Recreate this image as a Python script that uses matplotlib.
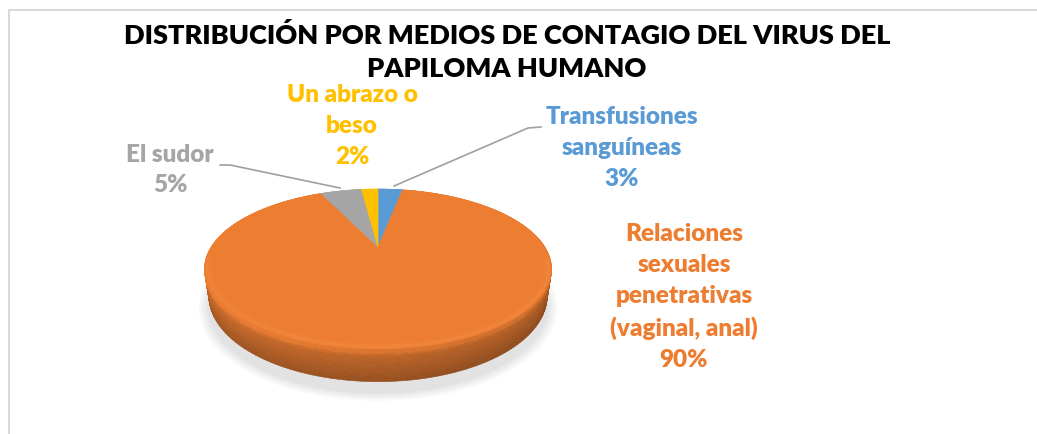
import numpy as np
import matplotlib.pyplot as plt
from matplotlib.collections import PolyCollection
from matplotlib.colors import to_rgb

# data
labels = ['Transfusiones\nsanguíneas', 'Relaciones\nsexuales\npenetrativas\n(vaginal, anal)',
          'El sudor', 'Un abrazo o\nbeso']
values = [3, 90, 5, 2]
colors = ['#5B9BD5', '#ED7D31', '#A5A5A5', '#FFC000']
title = 'DISTRIBUCIÓN POR MEDIOS DE CONTAGIO DEL VIRUS DEL\nPAPILOMA HUMANO'

# layout (pixels, origin top-left)
label_pos = [(622, 148), (684, 297), (170, 170), (352, 126)]
leaders = {0: [(541, 128), (528, 129), (394, 187)],
           2: [(220, 166), (230, 166), (340, 189)]}

# pie geometry: simple perspective projection of a flat cylinder
CX, CY, S = 378, 248, 166.8
EL, DIST, THICK = np.radians(26.3), 3.25, 0.18


def project(theta, r=1.0, z=0.0):
    x = r * np.sin(theta)
    y = -r * np.cos(theta)
    s, c = np.sin(EL), np.cos(EL)
    yv = y * s - z * c
    depth = DIST - y * c - z * s
    return CX + S * x * DIST / depth, CY + S * yv * DIST / depth


def shade(col, f):
    return tuple(np.clip(np.array(to_rgb(col)) * f, 0, 1))


fig = plt.figure(figsize=(10.37, 4.35), dpi=100)
ax = fig.add_axes([0, 0, 1, 1])
ax.set_xlim(0, 1037)
ax.set_ylim(435, 0)
ax.axis('off')

# chart frame
ax.plot([8.5, 8.5, 1037], [435, 10.5, 10.5], color='#D9D9D9', lw=1.5)

fracs = np.array(values) / sum(values)
edges = np.concatenate([[0], np.cumsum(fracs)]) * 2 * np.pi


def color_at(t):
    i = np.searchsorted(edges, t % (2 * np.pi), side='right') - 1
    return colors[min(i, len(colors) - 1)]


# soft shadow under the pie
tt = np.linspace(0, 2 * np.pi, 200)
for k, a in enumerate([0.05, 0.05, 0.06, 0.07]):
    r = 1.06 - k * 0.015
    px, py = project(tt, r, -THICK - 0.04)
    ax.fill(px, py + 3, color='#808080', alpha=a, lw=0, zorder=1)

# side wall
nseg, nlay = 240, 14
polys, fcols, depths = [], [], []
seg = np.linspace(0, 2 * np.pi, nseg + 1)
zl = np.linspace(0, -THICK, nlay + 1)
for i in range(nseg):
    t0, t1 = seg[i], seg[i + 1]
    tm = 0.5 * (t0 + t1)
    base = color_at(tm)
    fang = 0.86 - 0.07 * np.sin(tm)
    for j in range(nlay):
        u = (j + 0.5) / nlay
        if u < 0.12:
            fv = 1.08
        elif u < 0.25:
            fv = 0.98
        else:
            fv = 0.92 - 0.25 * (u - 0.25)
        a0 = project(t0, 1, zl[j]); a1 = project(t1, 1, zl[j])
        b1 = project(t1, 1, zl[j + 1]); b0 = project(t0, 1, zl[j + 1])
        polys.append([a0, a1, b1, b0])
        fcols.append(shade(base, fang * fv))
        depths.append(-np.cos(tm))
order = np.argsort(depths)
pc = PolyCollection([polys[k] for k in order], facecolors=[fcols[k] for k in order],
                    edgecolors=[fcols[k] for k in order], linewidths=0.4, zorder=2)
ax.add_collection(pc)

# top face
for i, col in enumerate(colors):
    t = np.linspace(edges[i], edges[i + 1], max(4, int(fracs[i] * 400)))
    px, py = project(t)
    ax.fill(np.r_[CX, px], np.r_[CY, py], color=col, ec=col, lw=0.5, zorder=3)

# bevel highlight along the front rim
tb = np.linspace(np.pi * 0.55, np.pi * 1.45, 120)
for r, a in [(0.985, 0.25), (0.97, 0.15)]:
    px, py = project(tb, r)
    ax.plot(px, py, color='#F59A58', lw=2, alpha=a, zorder=4, solid_capstyle='round')

# leader lines
for i, pts in leaders.items():
    xs, ys = zip(*pts)
    ax.plot(xs, ys, color='#A0A0A0', lw=1.2, zorder=5)

# data labels
for i, (lab, (lx, ly)) in enumerate(zip(labels, label_pos)):
    txt = f'{lab}\n{values[i]}%'
    ax.text(lx, ly, txt, color=colors[i], fontsize=17.5, fontweight='heavy',
            family='Lato', ha='center', va='center', linespacing=1.48, zorder=6)

ax.text(507, 52, title, fontsize=19.5, fontweight='heavy', family='Lato',
        ha='center', va='center', linespacing=1.42, color='black')

fig.savefig('out.png', dpi=100)
